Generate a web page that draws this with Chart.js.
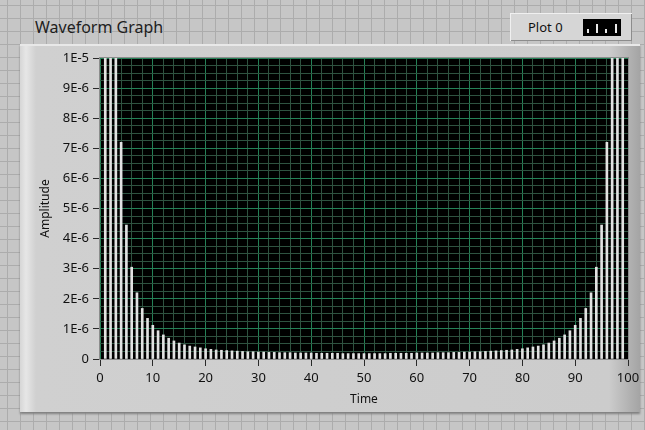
<!DOCTYPE html>
<html>
<head>
<meta charset="utf-8">
<script src="https://cdn.jsdelivr.net/npm/chart.js@4.4.0/dist/chart.umd.min.js"></script>
<style>
  body {
    margin: 0;
    width: 645px;
    height: 430px;
    overflow: hidden;
    position: relative;
    background-color: #c6c6c6;
    background-image: linear-gradient(#acacac 1px, transparent 1px),
                      linear-gradient(90deg, #acacac 1px, transparent 1px);
    background-size: 13px 13px;
    background-position: 7px 5px;
    font-family: "Noto Sans", sans-serif;
  }
  #frame {
    position: absolute;
    left: 20px; top: 44px;
    width: 620px; height: 368px;
    background: linear-gradient(90deg, #d6d6d6 0px, #e6e6e6 6px, #d0d0d0 16px, #cccccc 95%, #a4a4a4 100%);
    box-shadow: inset 0 2px 0 #e8e8e8, 0 2px 2px #808080;
  }
  #title {
    position: absolute;
    left: 35px; top: 16px;
    font-size: 16px;
    color: #1e1e1e;
  }
  #legend {
    position: absolute;
    left: 510px; top: 13px;
    width: 122px; height: 28px;
    background: #d6d6d6;
    box-shadow: inset 1px 1px 0 #f0f0f0, inset -1px -1px 0 #8c8c8c;
  }
  #legend span {
    position: absolute;
    left: 18px; top: 5px;
    font-size: 13px;
    color: #111;
  }
  #swatch {
    position: absolute;
    left: 73px; top: 6px;
    width: 38px; height: 17px;
    background: #000;
  }
  #swatch i {
    position: absolute;
    bottom: 3px;
    width: 2px;
    background: #e8e8e8;
  }
  canvas { position: absolute; left: 0; top: 0; }
</style>
</head>
<body>
<div id="frame"></div>
<div id="title">Waveform Graph</div>
<div id="legend"><span>Plot 0</span>
  <div id="swatch"><i style="left:4px;height:4px"></i><i style="left:13px;height:9px"></i><i style="left:22px;height:4px"></i><i style="left:32px;height:9px"></i></div>
</div>
<canvas id="myChart" width="645" height="430"></canvas>
<script>
// amplitude in units of 1E-6, one sample per time step 1..99
var amplitude = [
    115, 29, 12.8, 7.2, 4.45, 3.05, 2.2, 1.68, 1.35, 1.12,
    0.94, 0.8, 0.69, 0.6, 0.53, 0.47, 0.43, 0.4, 0.37, 0.34,
    0.32, 0.3, 0.29, 0.28, 0.27, 0.26, 0.25, 0.24, 0.24, 0.23,
    0.23, 0.22, 0.22, 0.21, 0.21, 0.21, 0.2, 0.2, 0.2, 0.2,
    0.19, 0.19, 0.19, 0.19, 0.19, 0.18, 0.18, 0.18, 0.18, 0.18,
    0.18, 0.18, 0.18, 0.18, 0.19, 0.19, 0.19, 0.19, 0.19, 0.2,
    0.2, 0.2, 0.2, 0.21, 0.21, 0.21, 0.22, 0.22, 0.23, 0.23,
    0.24, 0.24, 0.25, 0.26, 0.27, 0.28, 0.29, 0.3, 0.32, 0.34,
    0.37, 0.4, 0.43, 0.47, 0.53, 0.6, 0.69, 0.8, 0.94, 1.12,
    1.35, 1.68, 2.2, 3.05, 4.45, 7.2, 12.8, 29, 115
]
var xTickLabels = ["0", "10", "20", "30", "40", "50", "60", "70", "80", "90", "100"]
var yTickLabels = ["0", "1E-6", "2E-6", "3E-6", "4E-6", "5E-6", "6E-6", "7E-6", "8E-6", "9E-6", "1E-5"]

var majorGrid = 'rgb(36, 128, 86)'
var minorGrid = 'rgb(46, 82, 64)'

var points = amplitude.map(function (v, i) {
    return { x: i + 1, y: v }
})

var plotBackground = {
    id: 'plotBackground',
    beforeDraw: function (chart) {
        var a = chart.chartArea
        var ctx = chart.ctx
        ctx.save()
        ctx.fillStyle = '#000'
        ctx.fillRect(a.left, a.top, a.right - a.left, a.bottom - a.top)
        ctx.restore()
    },
    afterDraw: function (chart) {
        var a = chart.chartArea
        var ctx = chart.ctx
        ctx.save()
        ctx.strokeStyle = '#8c8c8c'
        ctx.lineWidth = 1
        ctx.strokeRect(a.left - 0.5, a.top - 0.5, a.right - a.left + 1, a.bottom - a.top + 1)
        ctx.restore()
    }
}

var ctx = document.getElementById("myChart")
var myChart = new Chart(ctx, {
    type: 'bar',
    data: {
        datasets: [{
            label: 'Plot 0',
            data: points,
            backgroundColor: '#e2e2e2',
            borderWidth: 0,
            barThickness: 2
        }]
    },
    options: {
        responsive: false,
        animation: false,
        layout: {
            padding: { left: 34, right: 17, top: 58, bottom: 19 }
        },
        plugins: {
            legend: { display: false },
            tooltip: { enabled: false }
        },
        scales: {
            x: {
                type: 'linear',
                min: 0,
                max: 100,
                offset: false,
                afterFit: function (s) { s.height = 52 },
                ticks: {
                    stepSize: 2,
                    autoSkip: false,
                    maxRotation: 0,
                    padding: 4,
                    color: '#111',
                    font: { family: 'Noto Sans', size: 13 },
                    callback: function (v) {
                        return v % 10 === 0 ? xTickLabels[v / 10] : ''
                    }
                },
                grid: {
                    offset: false,
                    tickLength: 7,
                    color: function (c) {
                        return c.tick && c.tick.value % 10 === 0 ? majorGrid : minorGrid
                    },
                    tickColor: function (c) {
                        return c.tick && c.tick.value % 10 === 0 ? '#2a2a2a' : 'rgba(0,0,0,0)'
                    }
                },
                border: { display: false },
                title: {
                    display: true,
                    text: 'Time',
                    color: '#111',
                    font: { family: 'Noto Sans', size: 12 }
                }
            },
            y: {
                min: 0,
                max: 10,
                afterFit: function (s) { s.width = 66 },
                ticks: {
                    stepSize: 0.25,
                    autoSkip: false,
                    padding: 4,
                    color: '#111',
                    font: { family: 'Noto Sans', size: 13 },
                    callback: function (v) {
                        return v % 1 === 0 ? yTickLabels[v] : ''
                    }
                },
                grid: {
                    tickLength: 7,
                    color: function (c) {
                        return c.tick && c.tick.value % 1 === 0 ? majorGrid : minorGrid
                    },
                    tickColor: function (c) {
                        return c.tick && c.tick.value % 1 === 0 ? '#2a2a2a' : 'rgba(0,0,0,0)'
                    }
                },
                border: { display: false },
                title: {
                    display: true,
                    text: 'Amplitude',
                    color: '#111',
                    font: { family: 'Noto Sans', size: 12 }
                }
            }
        }
    },
    plugins: [plotBackground]
})
</script>
</body>
</html>
